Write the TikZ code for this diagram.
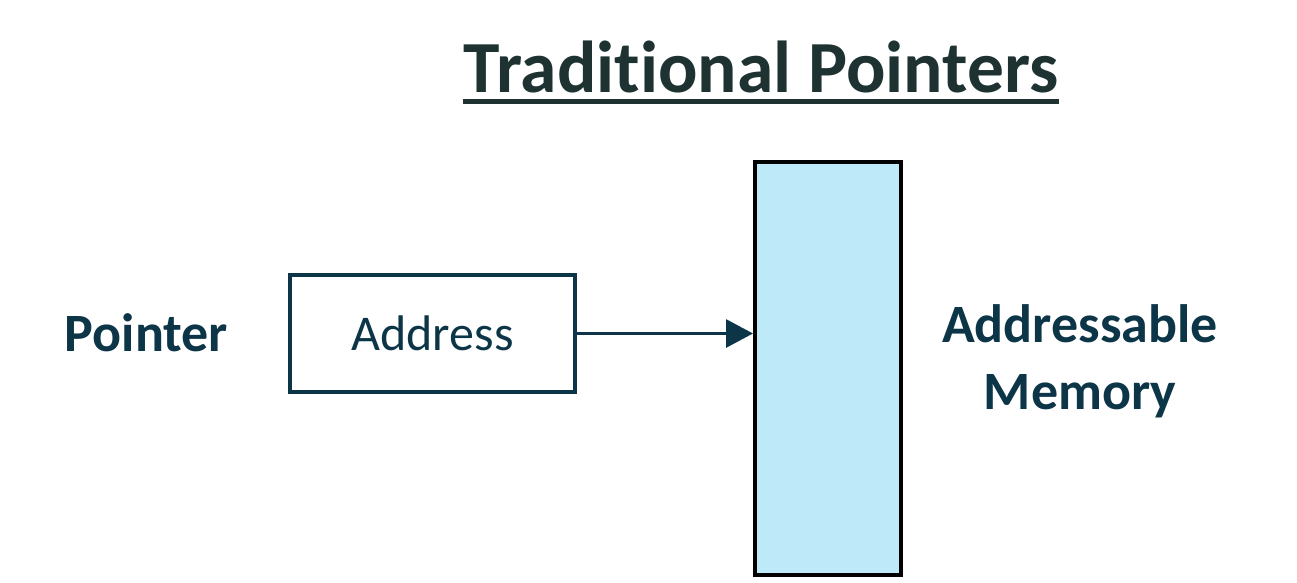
\documentclass[tikz,border=0pt]{standalone}
\usepackage{fontspec}
\setmainfont[Ligatures=NoCommon]{Carlito}
\usepackage{xcolor}
\usetikzlibrary{arrows.meta, positioning, calc}

\definecolor{navy}{HTML}{0C3547}
\definecolor{titlecol}{HTML}{1E3232}
\definecolor{memfill}{HTML}{BDE9F8}

\begin{document}
\begin{tikzpicture}[x=1pt,y=1pt,
    lbl/.style={font=\fontsize{54}{67}\selectfont\bfseries, text=navy, inner sep=0pt, align=center},
    addrbox/.style={draw=navy, line width=4pt, minimum width=285pt, minimum height=117pt, inner sep=0pt},
    membox/.style={draw=black, line width=4pt, fill=memfill, minimum width=146pt, minimum height=413pt, inner sep=0pt}]
\useasboundingbox (0,0) rectangle (1297,582);
% Title
\node[anchor=base, inner sep=0pt, text=titlecol, font=\fontsize{73.5}{90}\selectfont\bfseries] (title) at (761,489) {Traditional Pointers};
\draw[titlecol, line width=5pt] ($(title.base west)+(0,-9)$) -- ($(title.base east)+(0,-9)$);
% Boxes
\node[addrbox, font=\fontsize{50}{60}\selectfont, text=navy] (addr) at (432.5,248.5) {Address};
\node[membox] (mem) at (828,213.5) {};
% Labels
\node[lbl, anchor=base] (ptr) at (146.5,231) {Pointer};
\node[lbl, anchor=north] (memlbl) at (1080,278) {Addressable\\Memory};
% Arrow
\coordinate (tip) at (mem.west |- addr.east);
\draw[navy, line width=3pt, -{Triangle[length=27pt, width=28pt]}] (addr.east) -- (tip);
\end{tikzpicture}
\end{document}
